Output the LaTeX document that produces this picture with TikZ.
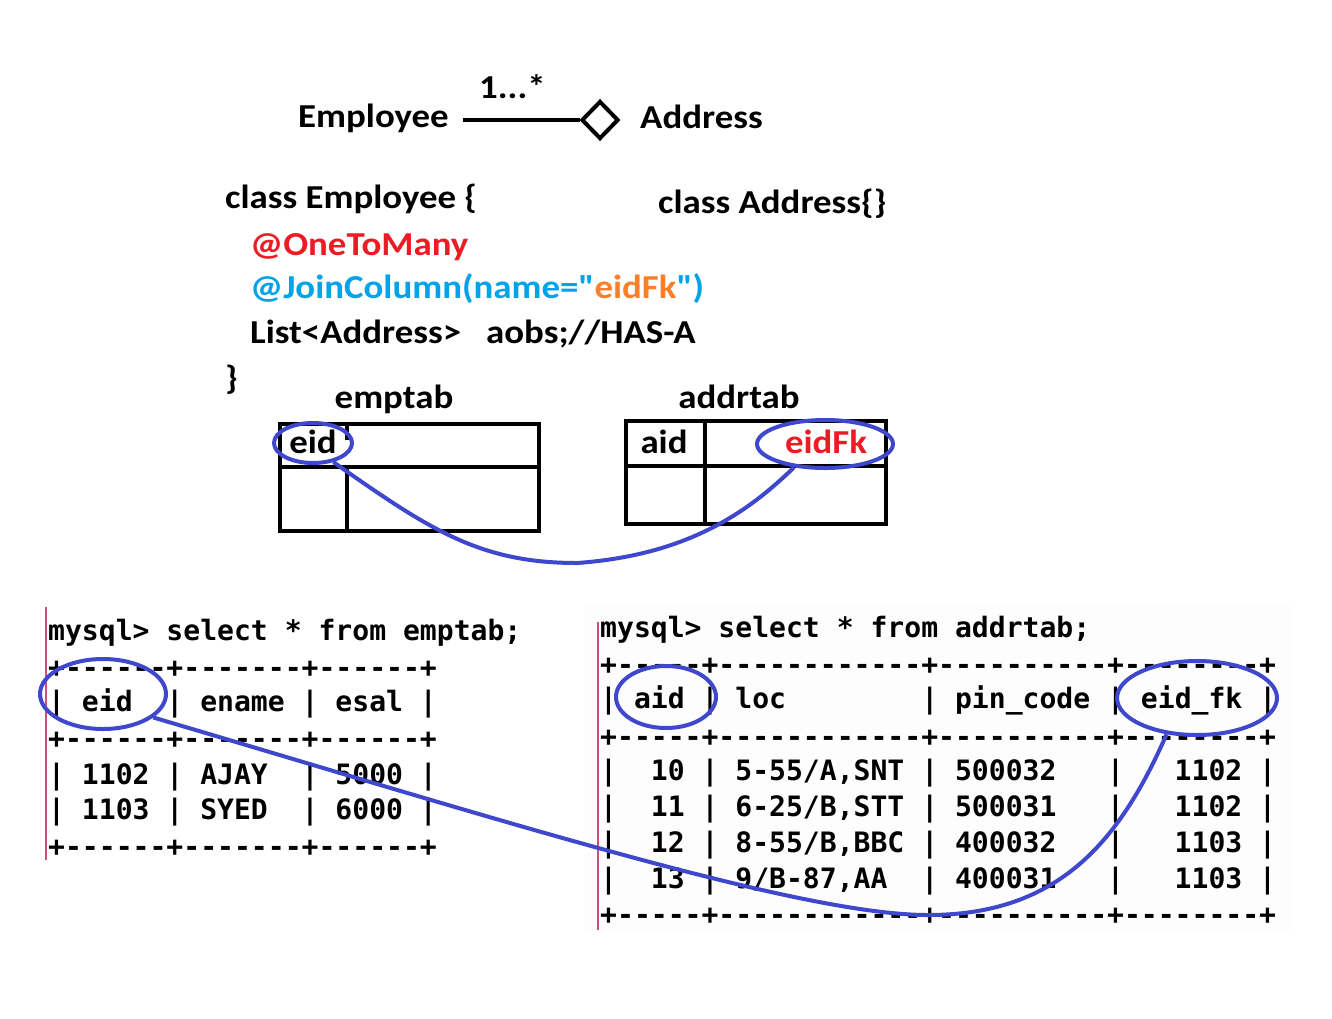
\documentclass[tikz,border=0pt]{standalone}
\usepackage{fontspec}
\usetikzlibrary{shapes.geometric}
\newfontfamily\carl[FakeStretch=1.1]{Carlito}
\newfontfamily\dvmono{DejaVu Sans Mono}
\definecolor{pred}{HTML}{ED1C24}
\definecolor{pblue}{HTML}{00A2E8}
\definecolor{porange}{HTML}{FF7F27}
\definecolor{hlblue}{HTML}{3F48CC}
\definecolor{pinkline}{HTML}{C8507A}
\tikzset{
 lbl/.style={inner sep=0pt, anchor=base west, font=\carl\bfseries\fontsize{33.5}{40}\selectfont},
 mono/.style={inner sep=0pt, anchor=base west, font=\dvmono\bfseries\fontsize{28.07}{34}\selectfont},
 hl/.style={draw=hlblue, line width=4pt, ellipse, inner sep=0pt},
 conn/.style={draw=hlblue, line width=4pt},
 tbl/.style={line width=4pt},
}
\begin{document}
\begin{tikzpicture}[x=1pt,y=-1pt]
\useasboundingbox (0,0) rectangle (1332,1018);
\fill[white] (0,0) rectangle (1332,1018);
\fill[black!0.8] (584,605) rectangle (1293,930);

% UML
\node[lbl] (emp) at (298,127) {Employee};
\node[lbl] (addr) at (640,128) {Address};
\node[lbl] (mult) at (479,98) {1...*};
\node[diamond, draw, line width=4pt, minimum width=37, minimum height=38, inner sep=0pt] (dia) at (600,120) {};
\coordinate (lstart) at (463,120);
\draw[line width=4pt] (lstart) -- (dia.west);

% code
\node[lbl] (c1) at (225,208) {class Employee \{};
\node[lbl] (c2) at (658,213) {class Address\{\}};
\node[lbl, text=pred] (c3) at (250,255) {@OneToMany};
\node[lbl, text=pblue] (c4) at (250,298) {@JoinColumn(name="\textcolor{porange}{eidFk}")};
\node[lbl] (c5) at (250,343) {List<Address>\hspace{25pt}aobs;//HAS-A};
\node[lbl] (c6) at (225,389) {\}};

% table sketches
\node[lbl, anchor=base] (t1) at (394,408) {emptab};
\node[lbl, anchor=base] (t2) at (739,408) {addrtab};
\draw[tbl] (280,424) rectangle (539,531);
\draw[tbl] (280,467) -- (541,467);
\draw[tbl] (347,467) -- (347,531);
\draw[tbl] (347,426) -- (347,440);
\draw[tbl] (626,421) rectangle (886,524);
\draw[tbl] (626,466) -- (886,466);
\draw[tbl] (705,421) -- (705,524);
\node[lbl, anchor=base] (eidT) at (313,453) {eid};
\node[lbl, anchor=base] (aidT) at (664,453) {aid};
\node[lbl, anchor=base, text=pred] (fkT) at (826,453) {eidFk};

\node[hl, minimum width=78, minimum height=40] (h1) at (313,443) {};
\node[hl, minimum width=136, minimum height=48] (h2) at (825,444) {};
\draw[conn] (h1.-43) .. controls (430,530) and (480,563) .. (577,563) .. controls (690,555) and (750,510) .. (h2.-143);

% mysql output
\draw[pinkline, line width=1.2pt] (46,607) -- (46,860);
\draw[pinkline, line width=1.2pt] (598,622) -- (598,930);

\node[mono] (l0) at (48,640) {mysql>~select~*~from~emptab;};
\node[mono] (l1) at (48,677) {+------+-------+------+};
\node[mono] (l2) at (48,711) {|~eid~~|~ename~|~esal~|};
\node[mono] (l3) at (48,748) {+------+-------+------+};
\node[mono] (l4) at (48,784) {|~1102~|~AJAY~~|~5000~|};
\node[mono] (l5) at (48,819) {|~1103~|~SYED~~|~6000~|};
\node[mono] (l6) at (48,856) {+------+-------+------+};

\node[mono] (r0) at (600,637) {mysql>~select~*~from~addrtab;};
\node[mono] (r1) at (600,674) {+-----+------------+----------+--------+};
\node[mono] (r2) at (600,708) {|~aid~|~loc~~~~~~~~|~pin\_code~|~eid\_fk~|};
\node[mono] (r3) at (600,746) {+-----+------------+----------+--------+};
\node[mono] (r4) at (600,780) {|~~10~|~5-55/A,SNT~|~500032~~~|~~~1102~|};
\node[mono] (r5) at (600,816) {|~~11~|~6-25/B,STT~|~500031~~~|~~~1102~|};
\node[mono] (r6) at (600,852) {|~~12~|~8-55/B,BBC~|~400032~~~|~~~1103~|};
\node[mono] (r7) at (600,888) {|~~13~|~9/B-87,AA~~|~400031~~~|~~~1103~|};
\node[mono] (r8) at (600,924) {+-----+------------+----------+--------+};

\node[hl, minimum width=126, minimum height=70] (h3) at (103,694) {};
\node[hl, minimum width=100, minimum height=62] (h4) at (666,697) {};
\node[hl, minimum width=160, minimum height=74] (h5) at (1197,698) {};
\draw[conn] (h3.-25) .. controls (500,820) and (800,915) .. (928,915) .. controls (1060,915) and (1120,840) .. (h5.-130);
\end{tikzpicture}
\end{document}
